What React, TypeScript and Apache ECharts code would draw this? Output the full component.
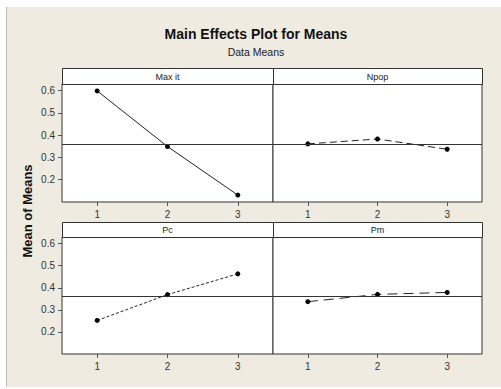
import React, { useEffect, useRef } from "react";
import * as echarts from "echarts";

const LEVELS = ["1", "2", "3"];
const FACTORS = ["Max it", "Npop", "Pc", "Pm"];
const MAX_IT = [0.599, 0.349, 0.131];
const NPOP = [0.361, 0.383, 0.337];
const PC = [0.252, 0.369, 0.463];
const PM = [0.337, 0.37, 0.379];
const Y_TICKS = [0.2, 0.3, 0.4, 0.5, 0.6];
const Y_MIN = 0.1;
const Y_MAX = 0.63;
const GRAND_MEAN = 0.362;

const FONT = "Liberation Sans, Arial, sans-serif";

export default function App() {
  const ref = useRef<HTMLDivElement>(null);
  useEffect(() => {
    const chart = echarts.init(ref.current!, null, { renderer: "svg" });
    const seriesData = [MAX_IT, NPOP, PC, PM];
    const dashes: any[] = ["solid", [7, 4], [3, 2], [10, 6]];
    const panels = [
      { left: 62, top: 84, width: 211, height: 118, stripTop: 68 },
      { left: 273, top: 84, width: 209, height: 118, stripTop: 68 },
      { left: 62, top: 237, width: 211, height: 117, stripTop: 222 },
      { left: 273, top: 237, width: 209, height: 117, stripTop: 222 },
    ];
    const grid = panels.map((p) => ({
      left: p.left,
      top: p.top,
      width: p.width,
      height: p.height,
      show: true,
      backgroundColor: "#fff",
      borderColor: "#333",
      borderWidth: 1,
    }));
    const xAxis = panels.map((p, i) => ({
      type: "category",
      gridIndex: i,
      data: LEVELS,
      boundaryGap: true,
      axisLine: { show: false },
      axisTick: { show: true, alignWithLabel: true, inside: false, length: 4, lineStyle: { color: "#555" } },
      axisLabel: { color: "#333", fontSize: 10, fontFamily: FONT, margin: 7 },
      splitLine: { show: false },
    }));
    const yAxis = panels.map((p, i) => ({
      type: "value",
      gridIndex: i,
      min: Y_MIN,
      max: Y_MAX,
      axisLine: { show: false },
      axisTick: {
        show: i % 2 === 0,
        length: 4,
        customValues: Y_TICKS,
        lineStyle: { color: "#555" },
      },
      axisLabel: {
        show: i % 2 === 0,
        customValues: Y_TICKS,
        formatter: (v: number) => v.toFixed(1),
        color: "#333",
        fontSize: 10,
        fontFamily: FONT,
        margin: 7,
      },
      splitLine: { show: false },
    }));
    const series = seriesData.map((d, i) => ({
      type: "line",
      xAxisIndex: i,
      yAxisIndex: i,
      data: d,
      symbol: "circle",
      symbolSize: 5,
      itemStyle: { color: "#000" },
      lineStyle: { color: "#222", width: 1, type: dashes[i] },
      markLine: {
        silent: true,
        symbol: "none",
        label: { show: false },
        lineStyle: { color: "#333", width: 1, type: "solid" },
        data: [{ yAxis: GRAND_MEAN }],
      },
    }));
    const graphic: any[] = [
      { type: "rect", shape: { x: 0, y: 0, width: 501, height: 7 }, style: { fill: "#fff" } },
      { type: "rect", shape: { x: 0, y: 0, width: 6, height: 389 }, style: { fill: "#fff" } },
      { type: "rect", shape: { x: 0, y: 387, width: 501, height: 2 }, style: { fill: "#fff" } },
      { type: "line", shape: { x1: 6.5, y1: 7, x2: 6.5, y2: 387 }, style: { stroke: "#bbb", lineWidth: 1 } },
      {
        type: "text",
        x: 256,
        y: 34,
        style: { text: "Main Effects Plot for Means", font: `bold 14px ${FONT}`, fill: "#111", align: "center", verticalAlign: "middle" },
      },
      {
        type: "text",
        x: 256,
        y: 52,
        style: { text: "Data Means", font: `10.5px ${FONT}`, fill: "#222", align: "center", verticalAlign: "middle" },
      },
      {
        type: "text",
        x: 27,
        y: 211,
        rotation: Math.PI / 2,
        style: { text: "Mean of Means", font: `bold 13px ${FONT}`, fill: "#111", align: "center", verticalAlign: "middle" },
      },
    ];
    panels.forEach((p, i) => {
      graphic.push({
        type: "rect",
        shape: { x: p.left + 0.5, y: p.stripTop + 0.5, width: p.width, height: p.top - p.stripTop },
        style: { fill: "#fff", stroke: "#333", lineWidth: 1 },
      });
      graphic.push({
        type: "text",
        x: p.left + p.width / 2,
        y: (p.stripTop + p.top) / 2 + 0.5,
        style: { text: FACTORS[i], font: `9px ${FONT}`, fill: "#222", align: "center", verticalAlign: "middle" },
      });
    });
    chart.setOption({
      animation: false,
      backgroundColor: "#EFEBE1",
      grid,
      xAxis,
      yAxis,
      series,
      graphic,
    });
    return () => chart.dispose();
  }, []);
  return <div ref={ref} style={{ position: "absolute", left: 0, top: 0, width: 501, height: 389 }} />;
}
